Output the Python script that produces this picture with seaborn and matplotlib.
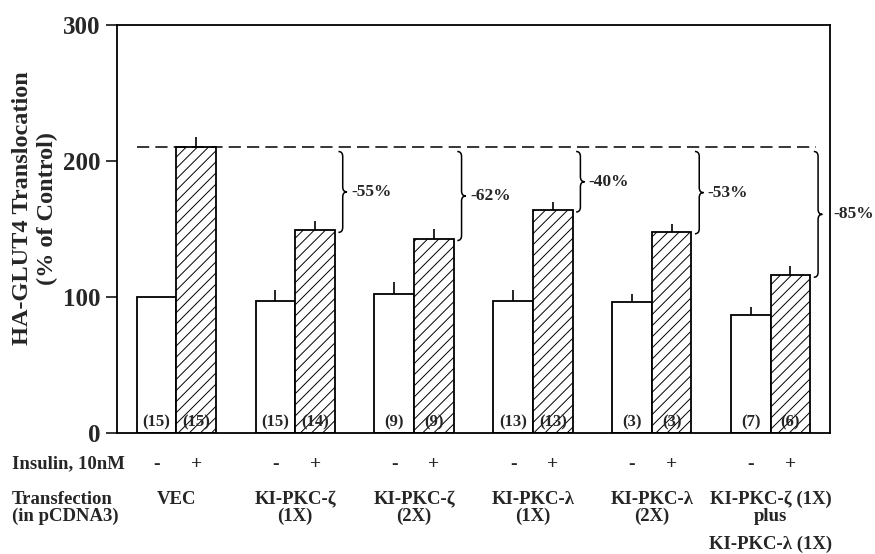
import numpy as np
import pandas as pd
import matplotlib
matplotlib.use("Agg")
import matplotlib.pyplot as plt
from matplotlib.path import Path
from matplotlib.patches import PathPatch
import matplotlib.transforms as mtransforms
import seaborn as sns

# ---- data -------------------------------------------------------------
groups = ["VEC", "KI-PKC-ζ\n(1X)", "KI-PKC-ζ\n(2X)", "KI-PKC-λ\n(1X)",
          "KI-PKC-λ\n(2X)", "KI-PKC-ζ (1X)\nplus"]
group_extra = ["", "", "", "", "", "KI-PKC-λ (1X)"]
basal = [100, 97, 102, 97, 96, 87]
basal_err = [0, 8, 9, 8, 6, 6]
insulin = [210, 149, 143, 164, 148, 116]
insulin_err = [8, 7, 7, 6, 6, 7]
n_basal = [15, 15, 9, 13, 3, 7]
n_insulin = [15, 14, 9, 13, 3, 6]
inhibition = ["-55%", "-62%", "-40%", "-53%", "-85%"]
yticks = [0, 100, 200, 300]

# ---- style ------------------------------------------------------------
sns.set_style("ticks")
plt.rcParams["font.family"] = ["Liberation Serif", "DejaVu Serif"]
plt.rcParams["font.weight"] = "bold"
plt.rcParams["hatch.linewidth"] = 0.7
plt.rcParams["hatch.color"] = "black"

df = pd.DataFrame({
    "group": groups * 2,
    "insulin": ["-"] * len(groups) + ["+"] * len(groups),
    "value": basal + insulin,
})

fig, ax = plt.subplots(figsize=(8.75, 5.54), dpi=100)
fig.subplots_adjust(left=0.1337, right=0.9486, bottom=0.2184, top=0.9549)

sns.barplot(data=df, x="group", y="value", hue="insulin", order=groups,
            hue_order=["-", "+"], palette={"-": "white", "+": "white"},
            edgecolor="black", linewidth=1.3, width=0.667, errorbar=None,
            legend=False, ax=ax)

basal_bars, insulin_bars = ax.containers[0], ax.containers[1]
for bar in insulin_bars:
    bar.set_hatch("///")

# upper-only error bars and n counts
for bars, errs, ns in [(basal_bars, basal_err, n_basal),
                       (insulin_bars, insulin_err, n_insulin)]:
    xs = [b.get_x() + b.get_width() / 2 for b in bars]
    hs = [b.get_height() for b in bars]
    ax.errorbar(xs, hs, yerr=[np.zeros(len(errs)), errs], fmt="none",
                ecolor="black", elinewidth=1.2, capsize=0, zorder=3)
    for x, n in zip(xs, ns):
        ax.text(x, 7.5, f"({n})", ha="center", va="center", fontsize=12,
                fontweight="bold", zorder=4)

# dashed reference at the insulin-stimulated vector level
ref = insulin[0]
x_right = len(groups) - 0.5


def brace(x0, ytop, ybot, w=0.036, r=3.7):
    ym = (ytop + ybot) / 2
    verts = [(x0, ytop), (x0 + w, ytop), (x0 + w, ytop - r),
             (x0 + w, ym + r),
             (x0 + w, ym), (x0 + 2 * w, ym),
             (x0 + w, ym), (x0 + w, ym - r),
             (x0 + w, ybot + r),
             (x0 + w, ybot), (x0, ybot)]
    codes = [Path.MOVETO, Path.CURVE3, Path.CURVE3, Path.LINETO,
             Path.CURVE3, Path.CURVE3, Path.CURVE3, Path.CURVE3,
             Path.LINETO, Path.CURVE3, Path.CURVE3]
    return Path(verts, codes), x0 + 2 * w, ym


last_x = None
for bar, label in zip(list(insulin_bars)[1:], inhibition):
    x0 = bar.get_x() + bar.get_width() + 0.03
    path, tip_x, ym = brace(x0, ref - 3, bar.get_height() - 1.5)
    ax.add_patch(PathPatch(path, facecolor="none", edgecolor="black",
                           lw=1.1, clip_on=False, zorder=3))
    # keep the label clear of the right spine
    lx = tip_x + 0.035
    if lx > x_right - 0.1:
        lx = x_right + 0.03
    ax.text(lx, ym, label, ha="left", va="center", fontsize=12.5,
            fontweight="bold", clip_on=False)
    last_x = x0 + 0.02

ax.hlines(ref, basal_bars[0].get_x(), last_x, colors="black", lw=1.1,
          linestyles=(0, (8, 4)), zorder=2)

# ---- axes -------------------------------------------------------------
ax.set_xlim(-0.5, x_right)
ax.set_ylim(0, 300)
ax.set_yticks(yticks)
ax.set_yticklabels([str(t) for t in yticks], fontsize=18, fontweight="bold")
ax.set_xticks([])
ax.set_xlabel("")
ax.set_ylabel("HA-GLUT4 Translocation\n(% of Control)", fontsize=17.5,
              fontweight="bold", linespacing=1.25)
ax.yaxis.set_label_coords(-0.083, 0.551)
ax.tick_params(axis="y", direction="out", length=8, width=1.3, pad=4)
for s in ax.spines.values():
    s.set_visible(True)
    s.set_linewidth(1.3)
    s.set_color("black")

# ---- rows beneath the axis ------------------------------------------
trans = mtransforms.blended_transform_factory(ax.transData, ax.transAxes)
ftrans = mtransforms.blended_transform_factory(fig.transFigure, ax.transAxes)
ax.text(12 / 875, -0.076, "Insulin, 10nM", transform=ftrans, ha="left",
        va="center", fontsize=13.5, fontweight="bold")
ax.text(12 / 875, -0.142, "Transfection\n(in pCDNA3)", transform=ftrans,
        ha="left", va="top", fontsize=13.5, fontweight="bold",
        linespacing=0.95)
for bars, sign in [(basal_bars, "-"), (insulin_bars, "+")]:
    for b in bars:
        ax.text(b.get_x() + b.get_width() / 2, -0.076, sign, transform=trans,
                ha="center", va="center", fontsize=14, fontweight="bold")
for i, (g, extra) in enumerate(zip(groups, group_extra)):
    ax.text(i, -0.142, g, transform=trans, ha="center", va="top",
            fontsize=13.5, fontweight="bold", linespacing=0.95)
    if extra:
        ax.text(i, -0.2735, extra, transform=trans, ha="center",
                va="center", fontsize=13.5, fontweight="bold")

fig.savefig("out.png", dpi=100)
